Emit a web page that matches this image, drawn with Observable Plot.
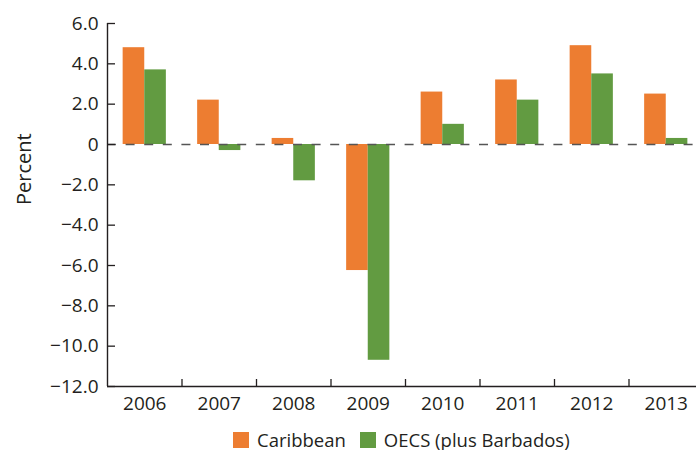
<!DOCTYPE html>
<html>
<head>
<meta charset="utf-8">
<script src="https://cdn.jsdelivr.net/npm/d3@7"></script>
<script src="https://cdn.jsdelivr.net/npm/@observablehq/plot@0.6"></script>
<style>
  html, body { margin: 0; padding: 0; background: #fff; overflow: hidden; }
  #chart { width: 696px; }
  #legend { display: flex; gap: 14px; margin-left: 233px; margin-top: 6px; font: 18.5px "Open Sans", sans-serif; color: #231f20; line-height: 20px; }
  .item { display: flex; align-items: center; }
  .sw { width: 16px; height: 16px; margin-right: 8px; display: inline-block; }
</style>
</head>
<body>
<div id="chart"></div>
<script>
const years = [2006, 2007, 2008, 2009, 2010, 2011, 2012, 2013];
const seriesNames = ["Caribbean", "OECS (plus Barbados)"];
const caribbean = [4.8, 2.2, 0.3, -6.25, 2.6, 3.2, 4.9, 2.5];
const oecs = [3.7, -0.3, -1.8, -10.7, 1.0, 2.2, 3.5, 0.3];
const colors = ["#ED7D31", "#629B41"];
const yTicks = [6, 4, 2, 0, -2, -4, -6, -8, -10, -12];
const yLabel = "Percent";

const data = [];
years.forEach((yr, i) => {
  data.push({year: yr, series: seriesNames[0], value: caribbean[i]});
  data.push({year: yr, series: seriesNames[1], value: oecs[i]});
});
const halfBar = 0.29;
const bounds = years.slice(0, -1).map(y => y + 0.5);
const fmt = d => d === 0 ? "0" : d.toFixed(1).replace("-", "\u2212");
const ink = "#231f20";

const plot = Plot.plot({
  width: 696,
  height: 424,
  marginTop: 23,
  marginBottom: 38,
  marginLeft: 107,
  marginRight: 0,
  style: {fontFamily: "'Open Sans', sans-serif", fontSize: "19px", color: ink, background: "#fff"},
  x: {domain: [years[0] - 0.5, years[years.length - 1] + 0.5], range: [107, 703]},
  y: {domain: [-12, 6]},
  color: {domain: seriesNames, range: colors},
  marks: [
    Plot.rectY(data, {
      x1: d => d.series === seriesNames[0] ? d.year - halfBar : d.year,
      x2: d => d.series === seriesNames[0] ? d.year : d.year + halfBar,
      y1: 0, y2: "value", fill: "series"
    }),
    Plot.ruleY([0], {stroke: "#555", strokeWidth: 1.6, strokeDasharray: "9,9.6"}),
    Plot.ruleY([-12], {stroke: ink, strokeWidth: 1.4}),
    Plot.ruleX([years[0] - 0.5], {stroke: ink, strokeWidth: 1.4}),
    Plot.axisY({ticks: yTicks, tickSize: 8, dx: 8, text: null, label: null, stroke: ink, strokeWidth: 1.3}),
    Plot.axisY({ticks: yTicks, tickSize: 0, tickPadding: 9, tickFormat: fmt, label: null, fill: ink}),
    Plot.axisX({ticks: bounds, tickSize: 7, dy: -7, text: null, label: null, stroke: ink, strokeWidth: 1.3}),
    Plot.axisX({ticks: years, tickSize: 0, tickPadding: 10, tickFormat: d => String(d), label: null, fill: ink}),
    Plot.text([yLabel], {frameAnchor: "left", rotate: -90, dx: -83, fontSize: 20, fill: ink})
  ]
});
document.getElementById("chart").appendChild(plot);

const legend = document.createElement("div");
legend.id = "legend";
seriesNames.forEach((s, i) => {
  const item = document.createElement("div");
  item.className = "item";
  const sw = document.createElement("span");
  sw.className = "sw";
  sw.style.background = colors[i];
  item.appendChild(sw);
  item.appendChild(document.createTextNode(s));
  legend.appendChild(item);
});
plot.after(legend);
</script>
</body>
</html>
